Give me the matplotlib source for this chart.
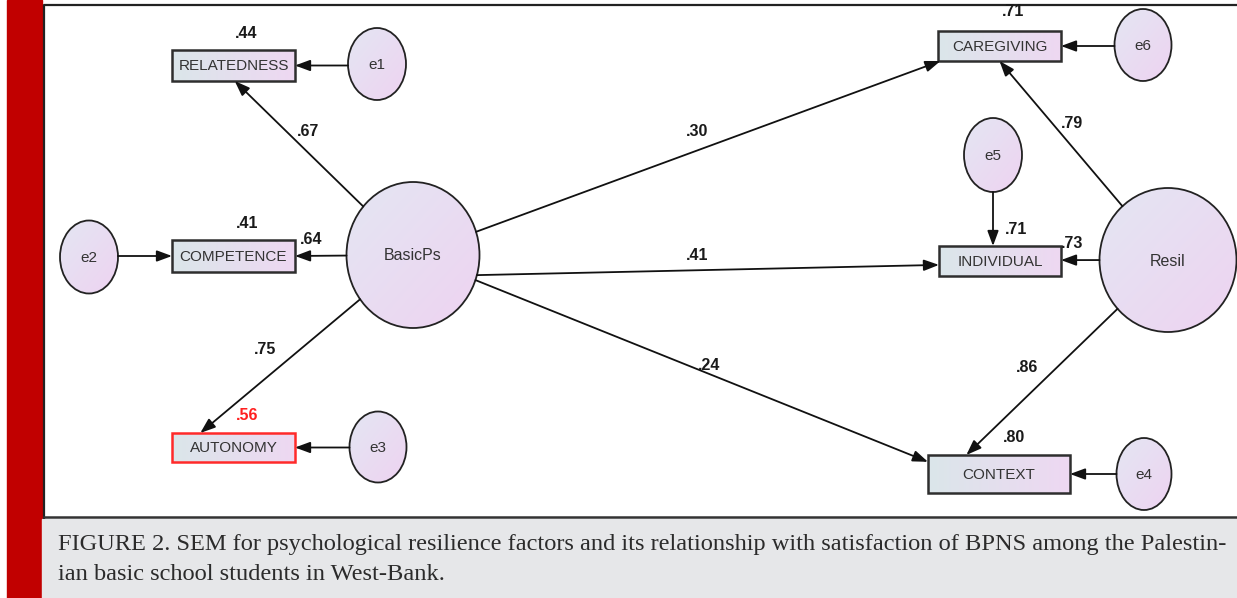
import numpy as np
import matplotlib
matplotlib.use('Agg')
import matplotlib.pyplot as plt
from matplotlib.patches import Rectangle, Ellipse, ArrowStyle
from matplotlib.colors import LinearSegmentedColormap

# ---- model values ----
indicators = ['RELATEDNESS', 'COMPETENCE', 'AUTONOMY', 'CAREGIVING', 'INDIVIDUAL', 'CONTEXT']
errors = ['e1', 'e2', 'e3', 'e6', 'e5', 'e4']
r_squared = ['.44', '.41', '.56', '.71', '.71', '.80']
loadings = ['.67', '.64', '.75', '.79', '.73', '.86']
latents = ['BasicPs', 'Resil']
structural = ['.30', '.41', '.24']
caption = ['FIGURE 2. SEM for psychological resilience factors and its relationship with satisfaction of BPNS among the Palestin-',
           'ian basic school students in West-Bank.']

# ---- layout (pixel coordinates of the 1237x598 canvas) ----
W, H = 1237, 598
box_pos = {  # x0, y0, width, height
    'RELATEDNESS': (172, 50, 123, 31), 'COMPETENCE': (172, 240, 123, 32),
    'AUTONOMY': (172, 433, 123, 29), 'CAREGIVING': (938, 31, 123, 30),
    'INDIVIDUAL': (939, 246, 122, 30), 'CONTEXT': (928, 455, 142, 38)}
err_pos = {  # cx, cy, w, h
    'e1': (377, 64, 58, 72), 'e2': (89, 257, 58, 73), 'e3': (378, 447, 57, 71),
    'e6': (1143, 45, 57, 72), 'e5': (993, 155, 58, 74), 'e4': (1144, 474, 55, 72)}
lat_pos = {'BasicPs': (413, 255, 133, 146), 'Resil': (1168, 260, 137, 144)}
r2_xy = [(246, 33), (247, 223), (247, 415), (1013, 12), (1016, 230), (1014, 437)]
load_xy = [(308, 132), (311, 240), (265, 350), (1072, 123), (1072, 244), (1027, 367)]
struct_xy = [(697, 131), (697, 255), (709, 366)]
# factor -> indicator: target anchor as fraction of box, source angle (None = aim at target)
load_edges = [('BasicPs', 'RELATEDNESS', (0.51, 1.0), None),
              ('BasicPs', 'COMPETENCE', (1.0, 0.5), None),
              ('BasicPs', 'AUTONOMY', (0.23, 0.0), None),
              ('Resil', 'CAREGIVING', (0.5, 1.0), None),
              ('Resil', 'INDIVIDUAL', (1.0, 0.47), None),
              ('Resil', 'CONTEXT', (0.27, 0.0), None)]
struct_edges = [('BasicPs', 'CAREGIVING', (0.02, 1.0), None),
                ('BasicPs', 'INDIVIDUAL', (0.0, 0.63), 16),
                ('BasicPs', 'CONTEXT', (0.0, 0.18), None)]

sans = 'Liberation Sans'
box_cmap = LinearSegmentedColormap.from_list('box', ['#dbe6ea', '#eed8f2'])
ell_cmap = LinearSegmentedColormap.from_list('ell', ['#e4e6f3', '#eed3f1'])

fig = plt.figure(figsize=(W / 100, H / 100), dpi=100)
ax = fig.add_axes([0, 0, 1, 1])
ax.set_xlim(0, W)
ax.set_ylim(H, 0)
ax.axis('off')

# page furniture: red margin bar, white panel, grey caption strip
ax.add_patch(Rectangle((7, 0), 35, H, color='#c10000', zorder=0))
ax.add_patch(Rectangle((42, 519), W - 42, H - 519, color='#e6e7e9', zorder=0))
ax.plot([44, 44, W], [519, 5, 5], color='#222222', lw=1.6, zorder=1, solid_capstyle='butt')
ax.plot([44, W], [517, 517], color='#333333', lw=1.8, zorder=1)


def gradient_patch(patch, x0, y0, w, h, cmap, diagonal=False):
    ax.add_patch(patch)
    u = np.linspace(0, 1, 64)
    if diagonal:
        g = (u[None, :] + u[:, None]) / 2
    else:
        g = np.tile(u, (8, 1))
    im = ax.imshow(g, cmap=cmap, extent=(x0, x0 + w, y0 + h, y0), origin='upper',
                   aspect='auto', zorder=2, interpolation='bilinear')
    im.set_clip_path(patch)


def anchor(name, frac):
    x0, y0, w, h = box_pos[name]
    return x0 + frac[0] * w, y0 + frac[1] * h


def ellipse_point(cx, cy, rx, ry, target=None, angle=None):
    if angle is not None:
        a = np.radians(angle)
        return cx + rx * np.cos(a), cy + ry * np.sin(a)
    dx, dy = target[0] - cx, target[1] - cy
    t = 1 / np.sqrt((dx / rx) ** 2 + (dy / ry) ** 2)
    return cx + t * dx, cy + t * dy


head = ArrowStyle('-|>', head_length=0.65, head_width=0.24)


def arrow(p0, p1):
    ax.annotate('', xy=p1, xytext=p0, zorder=4,
                arrowprops=dict(arrowstyle=head, mutation_scale=14, lw=1.3, color='#111111',
                                shrinkA=0, shrinkB=0))


# observed variables
for i, name in enumerate(indicators):
    x0, y0, w, h = box_pos[name]
    edge = '#ff2a2a' if name == 'AUTONOMY' else '#2e2e2e'
    gradient_patch(Rectangle((x0, y0), w, h, facecolor='none', edgecolor='none'), x0, y0, w, h, box_cmap)
    ax.add_patch(Rectangle((x0, y0), w, h, facecolor='none', edgecolor=edge, lw=1.8, zorder=3))
    ax.text(x0 + w / 2, y0 + h / 2 + 1, name, ha='center', va='center', family=sans,
            fontsize=11, color='#333333', zorder=5)
    col = '#ff2020' if name == 'AUTONOMY' else '#1a1a1a'
    ax.text(*r2_xy[i], r_squared[i], ha='center', va='center', family=sans, fontsize=11.5,
            color=col, weight='bold', zorder=5)

# error terms and their arrows
for i, (e, name) in enumerate(zip(errors, indicators)):
    cx, cy, w, h = err_pos[e]
    gradient_patch(Ellipse((cx, cy), w, h, facecolor='none', edgecolor='none'),
                   cx - w / 2, cy - h / 2, w, h, ell_cmap, diagonal=True)
    ax.add_patch(Ellipse((cx, cy), w, h, facecolor='none', edgecolor='#222222', lw=1.3, zorder=3))
    ax.text(cx, cy + 1, e, ha='center', va='center', family=sans, fontsize=11,
            color='#333333', zorder=5)
    bx0, by0, bw, bh = box_pos[name]
    if e == 'e5':
        arrow((cx, cy + h / 2), (cx, by0))
    elif cx < bx0:
        arrow((cx + w / 2, by0 + bh / 2), (bx0, by0 + bh / 2))
    else:
        arrow((cx - w / 2, by0 + bh / 2), (bx0 + bw, by0 + bh / 2))

# latent factors
for lat in latents:
    cx, cy, w, h = lat_pos[lat]
    gradient_patch(Ellipse((cx, cy), w, h, facecolor='none', edgecolor='none'),
                   cx - w / 2, cy - h / 2, w, h, ell_cmap, diagonal=True)
    ax.add_patch(Ellipse((cx, cy), w, h, facecolor='none', edgecolor='#222222', lw=1.3, zorder=3))
    ax.text(cx, cy + 1, lat, ha='center', va='center', family=sans, fontsize=11.5,
            color='#333333', zorder=5)

# paths
for edges, labels, pos in [(load_edges, loadings, load_xy), (struct_edges, structural, struct_xy)]:
    for (src, dst, frac, ang), lab, xy in zip(edges, labels, pos):
        cx, cy, w, h = lat_pos[src]
        p1 = anchor(dst, frac)
        p0 = ellipse_point(cx, cy, w / 2, h / 2, target=p1, angle=ang)
        arrow(p0, p1)
        ax.text(*xy, lab, ha='center', va='center', family=sans, fontsize=11.5,
                color='#1a1a1a', weight='bold', zorder=5)

# caption, fitted to the measured line width
cap1 = ax.text(58, 550, caption[0], ha='left', va='baseline', family='Liberation Serif',
               fontsize=18, color='#2b2b2b')
fig.canvas.draw()
width = cap1.get_window_extent().width
size = 18 * 1170 / width
cap1.set_fontsize(size)
ax.text(58, 580, caption[1], ha='left', va='baseline', family='Liberation Serif',
        fontsize=size, color='#2b2b2b')

fig.savefig('out.png', dpi=100)
